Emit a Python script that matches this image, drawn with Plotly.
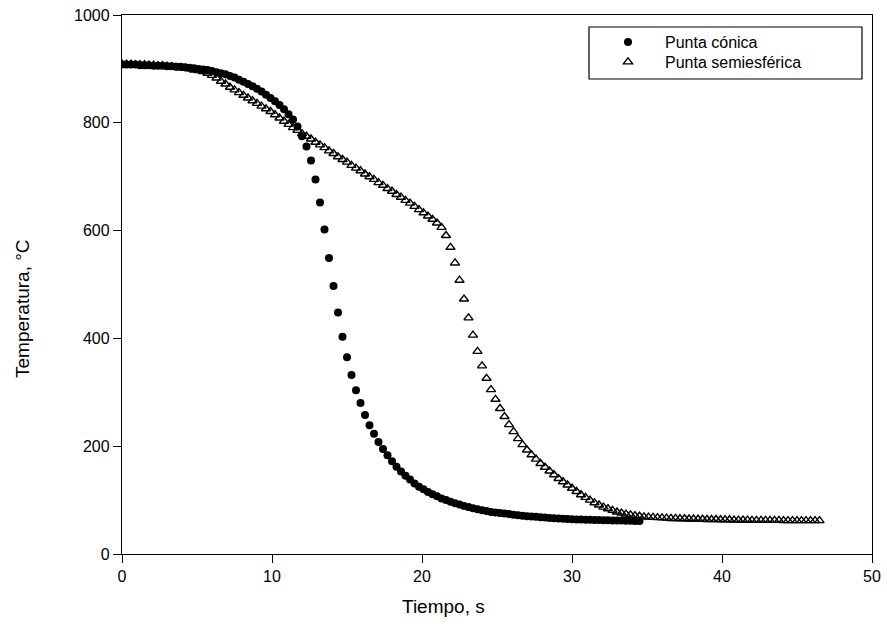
import plotly.graph_objects as go

# sampling interval of the recorded curves (s)
dt = 0.3

conica_temp = [
    908, 908, 908, 908, 907, 907, 907, 906, 906, 906,
    905, 905, 904, 904, 903, 902, 901, 900, 899, 898,
    896, 894, 892, 890, 887, 884, 880, 876, 872, 868,
    863, 858, 852, 846, 840, 833, 825, 816, 806, 793,
    775, 756, 730, 695, 652, 602, 549, 497, 448, 403,
    365, 332, 304, 280, 258, 239, 223, 208, 195, 183,
    172, 162, 153, 145, 138, 131, 125, 120, 115, 111,
    107, 103, 100, 97, 94, 92, 89, 87, 85, 83,
    81, 80, 78, 77, 76, 75, 74, 73, 72, 71,
    70, 69.5, 69, 68, 67.5, 67, 66.5, 66, 65.5, 65,
    64.5, 64, 64, 63.5, 63.5, 63, 63, 62.5, 62.5, 62,
    62, 62, 61.5, 61.5, 61, 61,
]

semiesferica_temp = [
    909, 909, 909, 908, 908, 908, 907, 907, 906, 906,
    905, 904, 903, 902, 901, 900, 898, 897, 895, 892,
    888, 883, 877, 872, 866, 861, 856, 851, 846, 841,
    836, 831, 826, 821, 815, 809, 803, 797, 791, 786,
    780, 775, 770, 764, 759, 754, 748, 743, 737, 732,
    727, 721, 716, 711, 705, 700, 695, 689, 684, 678,
    673, 667, 662, 656, 651, 645, 639, 633, 627, 621,
    614, 606, 591, 569, 540, 508, 473, 438, 406, 376,
    349, 326, 305, 287, 270, 255, 240, 227, 214, 203,
    193, 184, 176, 168, 161, 154, 147, 140, 134, 128,
    122, 116, 110, 105, 100, 95, 91, 87, 84, 81,
    78, 76, 74, 72.5, 71, 70, 69, 68.5, 68, 67.5,
    67, 66.5, 66, 66, 65.5, 65.5, 65, 65, 64.5, 64.5,
    64, 64, 64, 63.5, 63.5, 63.5, 63, 63, 63, 63,
    62.5, 62.5, 62.5, 62.5, 62.5, 62.5, 62.5, 62, 62, 62,
    62, 62, 62, 62, 62, 62,
]

conica_time = [round(i * dt, 1) for i in range(len(conica_temp))]
semi_time = [round(i * dt, 1) for i in range(len(semiesferica_temp))]

x_ticks = [0, 10, 20, 30, 40, 50]
y_ticks = [0, 200, 400, 600, 800, 1000]

FONT = "Liberation Sans, Arial, sans-serif"

fig = go.Figure()
fig.add_trace(go.Scatter(
    x=conica_time, y=conica_temp, mode="markers", name="Punta cónica",
    marker=dict(symbol="circle", size=8, color="black", line=dict(width=0)),
    legend="legend",
))
fig.add_trace(go.Scatter(
    x=semi_time, y=semiesferica_temp, mode="markers", name="Punta semiesférica",
    marker=dict(symbol="triangle-up-open", size=8, color="black",
                line=dict(width=1.4, color="black")),
    legend="legend2",
))

axis_common = dict(
    showgrid=False, zeroline=False, showline=True, linecolor="black",
    linewidth=1.3, mirror=True, ticks="outside", ticklen=8, tickwidth=1.3,
    tickcolor="black", tickfont=dict(family=FONT, size=16, color="black"),
)

legend_common = dict(xanchor="left", yanchor="middle", bgcolor="rgba(0,0,0,0)",
                     borderwidth=0, itemwidth=64,
                     font=dict(family=FONT, size=16, color="black"))

fig.update_layout(
    width=887, height=644,
    margin=dict(l=122, r=15, t=15, b=90, autoexpand=False),
    paper_bgcolor="white", plot_bgcolor="white",
    xaxis=dict(range=[0, 50], tickvals=x_ticks, **axis_common),
    yaxis=dict(range=[0, 1000], tickvals=y_ticks, **axis_common),
    showlegend=True,
    legend=dict(x=(591 - 122) / 750, y=(554 - 42) / 539, **legend_common),
    legend2=dict(x=(591 - 122) / 750, y=(554 - 62) / 539, **legend_common),
    shapes=[dict(type="rect", xref="paper", yref="paper",
                 x0=(589 - 122) / 750, x1=(862 - 122) / 750,
                 y0=(554 - 79) / 539, y1=(554 - 27) / 539,
                 line=dict(color="black", width=1.2), fillcolor="rgba(0,0,0,0)")],
    annotations=[
        dict(text="Tiempo, s", xref="paper", yref="paper",
             x=(443 - 122) / 750, y=(554 - 606) / 539,
             xanchor="center", yanchor="middle", showarrow=False,
             font=dict(family=FONT, size=19, color="black")),
        dict(text="Temperatura, °C", xref="paper", yref="paper",
             x=(22 - 122) / 750, y=(554 - 309) / 539, textangle=-90,
             xanchor="center", yanchor="middle", showarrow=False,
             font=dict(family=FONT, size=19, color="black")),
    ],
)

fig.write_html("out.html")
